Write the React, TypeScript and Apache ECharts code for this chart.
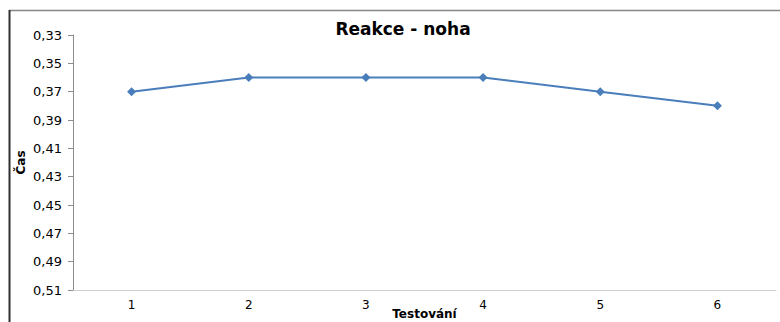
import React, { useEffect, useRef } from "react";
import * as echarts from "echarts";

// Measurement per test round (seconds)
const categories = ["1", "2", "3", "4", "5", "6"];
const reactionTimes = [0.37, 0.36, 0.36, 0.36, 0.37, 0.38];

// Value axis range and step (seconds); axis runs top-down
const axisMin = 0.33;
const axisMax = 0.51;
const axisStep = 0.02;

// The axis is expressed in hundredths counted from axisMin, so ticks start at 0
const toAxis = (v: number) => Math.round((v - axisMin) * 10000) / 100;
const fromAxis = (u: number) => axisMin + u / 100;

export default function App() {
  const ref = useRef<HTMLDivElement>(null);

  useEffect(() => {
    if (!ref.current) return;
    const chart = echarts.init(ref.current, undefined, { renderer: "svg" });
    const font = "'DejaVu Sans', 'Liberation Sans', Arial, sans-serif";
    chart.setOption({
      animation: false,
      backgroundColor: "#ffffff",
      title: {
        text: "Reakce - noha",
        left: 398,
        top: 15,
        textAlign: "center",
        textStyle: { fontFamily: font, fontSize: 17, fontWeight: "bold", color: "#000" },
      },
      grid: { left: 73, right: 4, top: 35, bottom: 32, containLabel: false, outerBoundsMode: "none" },
      xAxis: {
        type: "category",
        data: categories,
        boundaryGap: true,
        name: "Testování",
        nameLocation: "middle",
        nameGap: 18,
        nameMoveOverlap: false,
        nameTextStyle: { fontFamily: font, fontSize: 12, fontWeight: "bold", color: "#000" },
        axisLine: { onZero: false, lineStyle: { color: "#d0d0d0", width: 1 } },
        axisTick: { show: false },
        axisLabel: { fontFamily: font, fontSize: 12, color: "#000", margin: 9 },
      },
      yAxis: {
        type: "value",
        inverse: true,
        min: 0,
        max: toAxis(axisMax),
        interval: toAxis(axisMin + axisStep),
        name: "Čas",
        nameLocation: "middle",
        nameGap: 46,
        nameRotate: 90,
        nameMoveOverlap: false,
        nameTextStyle: { fontFamily: font, fontSize: 12, fontWeight: "bold", color: "#000" },
        axisLine: { show: true, lineStyle: { color: "#8c8c8c", width: 1 } },
        axisTick: { show: true, length: 5, lineStyle: { color: "#8c8c8c" } },
        splitLine: { show: false },
        axisLabel: {
          fontFamily: font,
          fontSize: 13,
          color: "#000",
          margin: 11,
          formatter: (u: number) => fromAxis(u).toFixed(2).replace(".", ","),
        },
      },
      graphic: [
        {
          type: "line",
          shape: { x1: 9, y1: 10.5, x2: 780, y2: 10.5 },
          style: { stroke: "#868686", lineWidth: 1.5 },
        },
        {
          type: "line",
          shape: { x1: 9.5, y1: 10, x2: 9.5, y2: 322 },
          style: { stroke: "#303030", lineWidth: 2 },
        },
      ],
      series: [
        {
          type: "line",
          data: reactionTimes.map(toAxis),
          symbol: "diamond",
          symbolSize: 9,
          lineStyle: { color: "#4a7ebb", width: 2 },
          itemStyle: { color: "#4a7ebb" },
        },
      ],
    });
    return () => chart.dispose();
  }, []);

  return (
    <div
      ref={ref}
      style={{ position: "fixed", left: 0, top: 0, width: 780, height: 322 }}
    />
  );
}
